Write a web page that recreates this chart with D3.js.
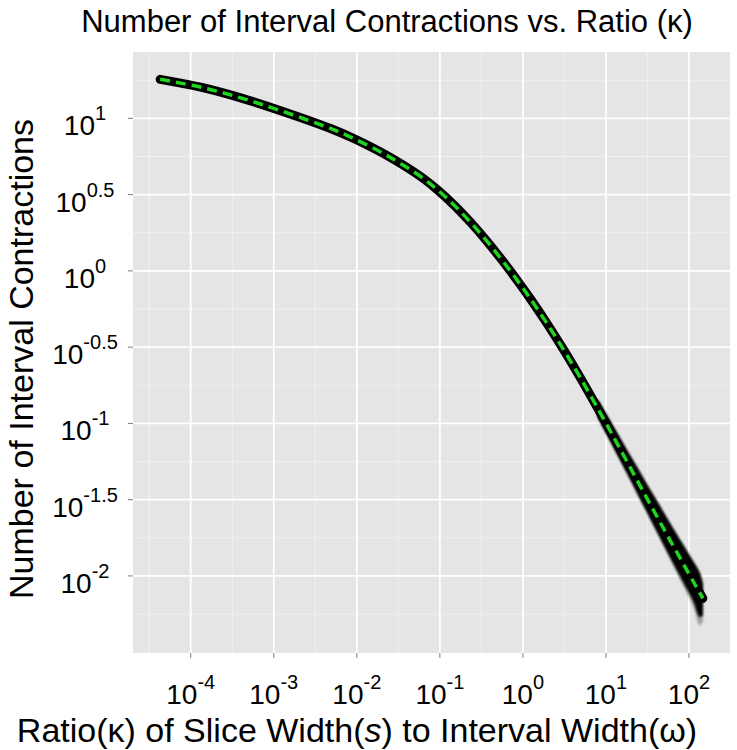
<!DOCTYPE html>
<html>
<head>
<meta charset="utf-8">
<script src="https://cdn.jsdelivr.net/npm/d3@7"></script>
<style>
  body { margin: 0; background: #fff; }
  text { font-family: "Liberation Sans", Arial, Helvetica, sans-serif; fill: #000; }
</style>
</head>
<body>
<div class="vis-contractions"></div>
<script>
// curve (ratio kappa -> number of interval contractions)
const ratio = [4.28e-5, 1.355e-4, 4.09e-4, 1.233e-3, 4.91e-3, 9.33e-3, 0.0235, 0.0589,
  0.0933, 0.1476, 0.234, 0.372, 0.587, 0.931, 1.227, 1.945, 3.076, 4.875, 8.47,
  13.43, 21.23, 33.65, 53.5, 84.5, 122.5, 146.9];
const contractions = [18.03, 15.96, 13.58, 11.19, 8.55, 7.35, 5.675, 4.15,
  3.404, 2.707, 2.082, 1.556, 1.139, 0.814, 0.658, 0.453, 0.3055, 0.2009, 0.1183,
  0.0750, 0.04742, 0.02992, 0.01892, 0.01213, 0.00849, 0.00713];

// spread of the simulated points at the large-ratio end
const bandRatio = [7.94, 19.95, 39.8, 79.4, 112.2, 134.9, 146.9];
const bandHigh = [0.1445, 0.0607, 0.0319, 0.0170, 0.01247, 0.01047, 0.00891];
const bandLow = [0.1096, 0.0420, 0.0201, 0.00977, 0.00685, 0.00537, 0.0055];
const faintLow = [0.1096, 0.0420, 0.0201, 0.0093, 0.0063, 0.00472, 0.0050];

const xMajor = [-4, -3, -2, -1, 0, 1, 2];
const yMajor = [1, 0.5, 0, -0.5, -1, -1.5, -2];

const width = 737;
const height = 750;
const margin = { top: 52, right: 7, bottom: 97, left: 133 };

const svg = d3.select(".vis-contractions").append("svg")
  .attr("width", width).attr("height", height);

// ggplot-like 5% expansion on log scale
function expanded(vals) {
  const lo = d3.min(vals, (v) => Math.log10(v));
  const hi = d3.max(vals, (v) => Math.log10(v));
  const e = (hi - lo) * 0.05;
  return [Math.pow(10, lo - e), Math.pow(10, hi + e)];
}

const xScale = d3.scaleLog()
  .domain(expanded(ratio.concat(bandRatio)))
  .range([margin.left, width - margin.right]);
const yScale = d3.scaleLog()
  .domain(expanded(contractions.concat(bandHigh, bandLow, faintLow)))
  .range([height - margin.bottom, margin.top]);

const x0 = margin.left, x1 = width - margin.right;
const y0 = margin.top, y1 = height - margin.bottom;

// panel
svg.append("rect")
  .attr("x", x0).attr("y", y0)
  .attr("width", x1 - x0).attr("height", y1 - y0)
  .attr("fill", "#e5e5e5");

const grid = svg.append("g");
const lx = d3.range(-4.5, 3, 1).filter((v) => xScale(Math.pow(10, v)) > x0 && xScale(Math.pow(10, v)) < x1);
const ly = d3.range(-2.25, 1.5, 0.5).filter((v) => yScale(Math.pow(10, v)) > y0 && yScale(Math.pow(10, v)) < y1);
grid.selectAll(".vminor").data(lx).enter().append("line")
  .attr("x1", (d) => xScale(Math.pow(10, d))).attr("x2", (d) => xScale(Math.pow(10, d)))
  .attr("y1", y0).attr("y2", y1)
  .attr("stroke", "#f2f2f2").attr("stroke-width", 0.8);
grid.selectAll(".hminor").data(ly).enter().append("line")
  .attr("y1", (d) => yScale(Math.pow(10, d))).attr("y2", (d) => yScale(Math.pow(10, d)))
  .attr("x1", x0).attr("x2", x1)
  .attr("stroke", "#f2f2f2").attr("stroke-width", 0.8);
grid.selectAll(".vmajor").data(xMajor).enter().append("line")
  .attr("x1", (d) => xScale(Math.pow(10, d))).attr("x2", (d) => xScale(Math.pow(10, d)))
  .attr("y1", y0).attr("y2", y1)
  .attr("stroke", "#fff").attr("stroke-width", 1.8);
grid.selectAll(".hmajor").data(yMajor).enter().append("line")
  .attr("y1", (d) => yScale(Math.pow(10, d))).attr("y2", (d) => yScale(Math.pow(10, d)))
  .attr("x1", x0).attr("x2", x1)
  .attr("stroke", "#fff").attr("stroke-width", 1.8);

// tick marks
svg.append("g").selectAll("line").data(xMajor).enter().append("line")
  .attr("x1", (d) => xScale(Math.pow(10, d))).attr("x2", (d) => xScale(Math.pow(10, d)))
  .attr("y1", y1).attr("y2", y1 + 5)
  .attr("stroke", "#7f7f7f").attr("stroke-width", 1);
svg.append("g").selectAll("line").data(yMajor).enter().append("line")
  .attr("y1", (d) => yScale(Math.pow(10, d))).attr("y2", (d) => yScale(Math.pow(10, d)))
  .attr("x1", x0 - 5).attr("x2", x0)
  .attr("stroke", "#7f7f7f").attr("stroke-width", 1);

// tick labels 10^k
function powLabel(sel) {
  sel.append("tspan").attr("font-size", 28).text("10");
  sel.append("tspan").attr("font-size", 20).attr("dy", -15).text((d) => String(d));
}
svg.append("g").selectAll("text").data(xMajor).enter().append("text")
  .attr("x", (d) => xScale(Math.pow(10, d)))
  .attr("y", 704)
  .attr("text-anchor", "middle")
  .call(powLabel);
svg.append("g").selectAll("text").data(yMajor).enter().append("text")
  .attr("x", 85)
  .attr("y", (d) => yScale(Math.pow(10, d)) + 17)
  .attr("text-anchor", "middle")
  .call(powLabel);

// clip to panel
svg.append("clipPath").attr("id", "panel").append("rect")
  .attr("x", x0).attr("y", y0).attr("width", x1 - x0).attr("height", y1 - y0);
const defs = svg.append("defs");
defs.append("filter").attr("id", "soft")
  .append("feGaussianBlur").attr("stdDeviation", 0.9);

const plot = svg.append("g").attr("clip-path", "url(#panel)");

const pts = ratio.map((r, i) => [xScale(r), yScale(contractions[i])]);
const line = d3.line().curve(d3.curveCatmullRom.alpha(0.5));

// scattered points: faint halo, then the dense band
const idx = bandRatio.map((r, i) => i);
plot.append("path")
  .datum(idx)
  .attr("d", d3.area()
    .x((i) => xScale(bandRatio[i]))
    .y0((i) => yScale(faintLow[i]))
    .y1((i) => yScale(bandHigh[i]))
    .curve(d3.curveCatmullRom))
  .attr("fill", "#000").attr("opacity", 0.3)
  .attr("filter", "url(#soft)");
plot.append("path")
  .datum(idx)
  .attr("d", d3.area()
    .x((i) => xScale(bandRatio[i]))
    .y0((i) => yScale(bandLow[i]))
    .y1((i) => yScale(bandHigh[i]))
    .curve(d3.curveCatmullRom))
  .attr("fill", "#000").attr("opacity", 1)
  .attr("filter", "url(#soft)");

plot.append("path")
  .attr("d", line(pts))
  .attr("fill", "none")
  .attr("stroke", "#000")
  .attr("stroke-width", 9)
  .attr("stroke-linecap", "round")
  .attr("stroke-linejoin", "round");

plot.append("path")
  .attr("d", line(pts))
  .attr("fill", "none")
  .attr("stroke", "#1fd41f")
  .attr("stroke-width", 3.5)
  .attr("stroke-dasharray", "10,6");

// titles
svg.append("text")
  .attr("x", 387).attr("y", 32)
  .attr("text-anchor", "middle")
  .attr("font-size", 31)
  .text("Number of Interval Contractions vs. Ratio (\u03ba)");

svg.append("text")
  .attr("transform", "translate(33,359) rotate(-90)")
  .attr("text-anchor", "middle")
  .attr("font-size", 34)
  .text("Number of Interval Contractions");

const xt = svg.append("text")
  .attr("x", 357).attr("y", 742)
  .attr("text-anchor", "middle")
  .attr("font-size", 34);
xt.append("tspan").text("Ratio(\u03ba) of Slice Width(");
xt.append("tspan").attr("font-style", "italic").text("s");
xt.append("tspan").text(") to Interval Width(\u03c9)");
</script>
</body>
</html>
